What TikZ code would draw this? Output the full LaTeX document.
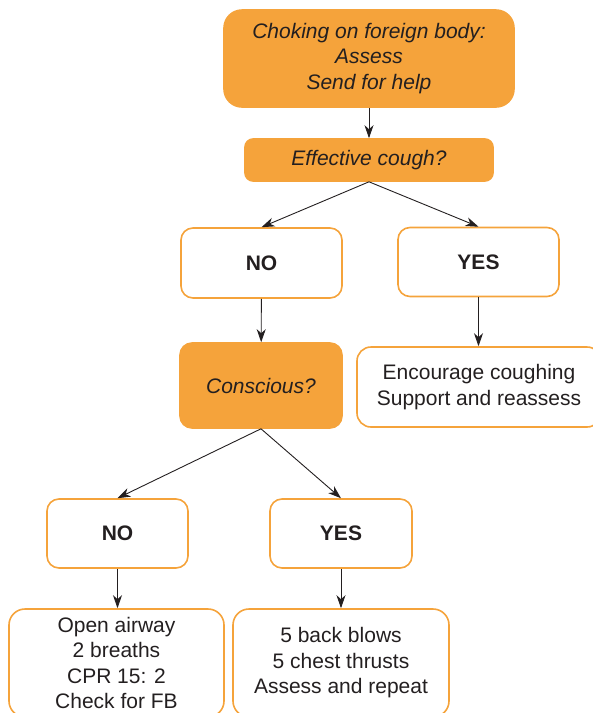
\documentclass[tikz,border=0pt]{standalone}
\usepackage{fontspec}
\setmainfont{Liberation Sans}
\usetikzlibrary{arrows.meta}
\definecolor{orng}{HTML}{F5A33B}
\definecolor{ink}{HTML}{231F20}

\begin{document}
\begin{tikzpicture}[x=1pt, y=-1pt,
	   b/.style={draw=orng, line width=1.6pt, rounded corners=12pt, align=center, text=ink,
	     inner sep=0pt, font=\fontsize{21}{25.5}\selectfont},
	   q/.style={b, fill=orng, font=\fontsize{21}{25.5}\selectfont\itshape},
	   ln/.style={-{Stealth[length=13pt, width=9pt, inset=4pt]}, line width=0.9pt, draw=ink}]
	  \useasboundingbox (0,0) rectangle (593,713);
	  % questions (filled)
	  \node[q, rounded corners=18pt, minimum width=290pt, minimum height=97pt] (top) at (369,58.5)
	    {Choking on foreign body:\\ Assess\\ Send for help};
	  \node[q, rounded corners=8pt, minimum width=248pt, minimum height=42pt] (cough) at (369,160) {Effective cough?};
	  \node[b, minimum width=161pt, minimum height=70pt] (no1) at (261.5,263) {\textbf{NO}};
	  \node[b, minimum width=161pt, minimum height=69pt] (yes1) at (478.5,262) {\textbf{YES}};
	  \node[q, minimum width=162pt, minimum height=85pt] (consc) at (261,385.5) {Conscious?};
	  \node[b, rounded corners=14pt, minimum width=244pt, minimum height=80pt] (enc) at (479,387)
	    {Encourage coughing\\ Support and reassess};
	  \node[b, minimum width=141pt, minimum height=69pt] (no2) at (117.5,533.5) {\textbf{NO}};
	  \node[b, minimum width=142pt, minimum height=69pt] (yes2) at (341,533.5) {\textbf{YES}};
	  % actions
	  \node[b, rounded corners=16pt, minimum width=215pt, minimum height=108pt] (open) at (116.5,663)
	    {Open airway\\ 2 breaths\\ CPR 15: 2\\ Check for FB};
	  \node[b, rounded corners=16pt, minimum width=216pt, minimum height=108pt] (blows) at (341,663)
	    {5 back blows\\ 5 chest thrusts\\ Assess and repeat};
	  \draw[ln] (top)--(cough);
	  \draw[ln] (cough.south)--(no1.north); \draw[ln] (cough.south)--(yes1.north);
	  \draw[ln] (no1)--(consc); \draw[ln] (yes1.south)--(yes1.south|-enc.north);
	  \draw[ln] (consc.south)--(no2.north); \draw[ln] (consc.south)--(yes2.north);
	  \draw[ln] (no2.south)--(no2.south|-open.north); \draw[ln] (yes2)--(blows);
	\end{tikzpicture}
\end{document}
